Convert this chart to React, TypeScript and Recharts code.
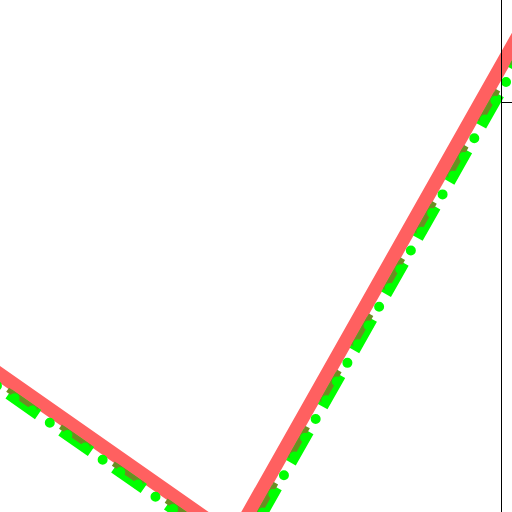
import { Line, LineChart, XAxis, YAxis } from "recharts";

// three points per series, the middle one sits below the visible area
const redX = [0, 4, 8];
const redY = [48.8, -7.2, 134.4];
const oliveX = [0.035, 4.035, 8.035];
const oliveY = [46.34, -9.66, 131.94];
const greenX = [0.045, 4.045, 8.045];
const greenY = [45.48, -10.52, 131.08];
const yTicks = [80];

const toPoints = (xs: number[], ys: number[]) =>
    xs.map((x, i) => ({ x, y: ys[i] }));

const redData = toPoints(redX, redY);
const oliveData = toPoints(oliveX, oliveY);
const greenData = toPoints(greenX, greenY);

// tick label falls outside the picture, only the tick mark shows
const NoLabel = () => <g />;

export default function App() {
    return (
        <div style={{ position: "absolute", left: 0, top: 0 }}>
            <LineChart
                width={512}
                height={512}
                margin={{ top: 0, right: 0, bottom: 0, left: 0 }}
            >
                <XAxis
                    type="number"
                    dataKey="x"
                    domain={["dataMin", "dataMax"]}
                    padding={{ left: -165.7, right: -137.3 }}
                    hide
                />
                <YAxis
                    orientation="right"
                    type="number"
                    width={10.5}
                    domain={["dataMin", "dataMax"]}
                    padding={{ top: -169.5, bottom: -43.1 }}
                    ticks={yTicks}
                    tickSize={14}
                    tick={<NoLabel />}
                    stroke="#000"
                    axisLine={{ stroke: "#000" }}
                    tickLine={{ stroke: "#000" }}
                />
                <Line
                    data={redData}
                    dataKey="y"
                    type="linear"
                    stroke="#ff6060"
                    strokeWidth={14}
                    dot={false}
                    activeDot={false}
                    isAnimationActive={false}
                />
                <Line
                    data={greenData}
                    dataKey="y"
                    type="linear"
                    stroke="#00ff00"
                    strokeWidth={11}
                    strokeDasharray="36 28.5"
                    strokeDashoffset={50.7}
                    dot={false}
                    activeDot={false}
                    isAnimationActive={false}
                />
                <Line
                    data={oliveData}
                    dataKey="y"
                    type="linear"
                    stroke="#6b8e23"
                    strokeWidth={5}
                    strokeDasharray="36 28.5"
                    strokeDashoffset={50.7}
                    dot={false}
                    activeDot={false}
                    isAnimationActive={false}
                />
                <Line
                    data={greenData}
                    dataKey="y"
                    type="linear"
                    stroke="#00ff00"
                    strokeWidth={10}
                    strokeDasharray="0 21.5"
                    strokeDashoffset={0.45}
                    strokeLinecap="round"
                    dot={false}
                    activeDot={false}
                    isAnimationActive={false}
                />
            </LineChart>
        </div>
    );
}
